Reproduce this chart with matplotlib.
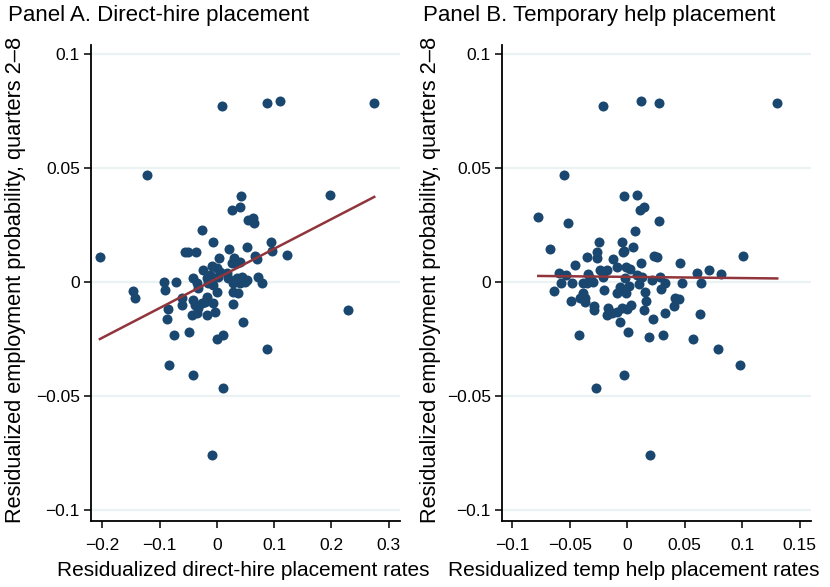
import numpy as np
import matplotlib
matplotlib.use('Agg')
import matplotlib.pyplot as plt

plt.rcParams['font.family'] = ['Liberation Sans', 'DejaVu Sans']

# Panel A: direct-hire placement rates vs employment probability (residualized)
dh_x = [-0.2045, -0.1229, 0.0093, 0.0869, 0.1101, 0.2750, 0.1970, 0.0420, 0.0262, 0.0402,
        0.0547, 0.0635, 0.0647, -0.0262, -0.0065, 0.0205, 0.0530, 0.0949, 0.0962, 0.1224,
        -0.0559, -0.0502, -0.0362, 0.0659, 0.0694, 0.0040, -0.0240, -0.0093, 0.0297, 0.0344,
        0.0257, 0.0402, -0.0921, -0.0909, -0.0722, -0.1463, -0.1439, -0.0425, -0.0355, -0.0327,
        -0.0180, -0.0122, -0.0152, -0.0005, 0.0052, 0.0023, -0.0065, -0.0005, 0.0170, 0.0198,
        0.0344, 0.0432, 0.0490, 0.0402, 0.0285, 0.0285, 0.0372, 0.0519, 0.0712, 0.0792,
        -0.0617, -0.0607, -0.0425, -0.0385, -0.0442, -0.0355, -0.0327, -0.0267, -0.0180, -0.0210,
        -0.0180, -0.0065, -0.0035, -0.0851, -0.0879, -0.0747, -0.0495, -0.0005, 0.0110, 0.0274,
        0.0449, 0.0869, 0.2285, -0.0839, -0.0414, 0.0100, -0.0093]
dh_y = [0.0110, 0.0471, 0.0770, 0.0785, 0.0792, 0.0787, 0.0380, 0.0376, 0.0317, 0.0327,
        0.0270, 0.0279, 0.0259, 0.0226, 0.0176, 0.0145, 0.0154, 0.0175, 0.0135, 0.0116,
        0.0129, 0.0133, 0.0133, 0.0113, 0.0100, 0.0103, 0.0053, 0.0070, 0.0103, 0.0082,
        0.0082, 0.0088, -0.0001, -0.0035, -0.0001, -0.0038, -0.0069, 0.0016, -0.0006, -0.0028,
        0.0016, 0.0031, -0.0006, 0.0060, 0.0045, 0.0023, -0.0013, -0.0043, 0.0038, 0.0016,
        0.0016, 0.0023, 0.0001, -0.0006, -0.0006, -0.0043, -0.0047, 0.0009, 0.0023, -0.0003,
        -0.0072, -0.0103, -0.0079, -0.0101, -0.0145, -0.0138, -0.0116, -0.0094, -0.0065, -0.0087,
        -0.0145, -0.0094, -0.0131, -0.0119, -0.0164, -0.0233, -0.0219, -0.0252, -0.0235, -0.0097,
        -0.0176, -0.0295, -0.0123, -0.0364, -0.0411, -0.0468, -0.0761]
dh_fit_y = [-0.0251, 0.0373]

# Panel B: temporary help placement rates
th_x = [-0.0774, -0.0672, -0.0553, -0.0518, -0.0207, 0.0122, 0.0279, 0.1306, -0.0029, 0.0084,
        0.0113, 0.0148, 0.0279, 0.0070, -0.0244, -0.0047, 0.0049, -0.0038, -0.0026, -0.0262,
        -0.0262, -0.0352, -0.0454, -0.0122, 0.0119, 0.0230, 0.0259, 0.0457, 0.1006, -0.0236,
        -0.0177, -0.0085, -0.0011, 0.0020, 0.0611, 0.0713, 0.0820, -0.0593, -0.0535, -0.0576,
        -0.0637, -0.0483, -0.0489, -0.0416, -0.0337, -0.0323, -0.0381, -0.0352, -0.0300, -0.0381,
        -0.0410, -0.0366, -0.0366, -0.0288, -0.0288, -0.0201, -0.0207, -0.0163, -0.0177, -0.0134,
        -0.0090, -0.0067, -0.0085, -0.0067, -0.0017, 0.0012, -0.0009, -0.0047, -0.0003, 0.0032,
        0.0003, -0.0026, -0.0268, 0.0201, 0.0084, 0.0128, 0.0105, 0.0151, 0.0166, 0.0142,
        0.0224, 0.0215, 0.0288, 0.0294, 0.0332, 0.0332, 0.0186, 0.0308, 0.0477, 0.0419,
        0.0454, 0.0407, 0.0570, 0.0640, 0.0631, 0.0791, 0.0983]
th_y = [0.0283, 0.0145, 0.0471, 0.0259, 0.0770, 0.0792, 0.0787, 0.0785, 0.0376, 0.0380,
        0.0317, 0.0327, 0.0269, 0.0225, 0.0175, 0.0175, 0.0153, 0.0132, 0.0134, 0.0132,
        0.0103, 0.0107, 0.0073, 0.0100, 0.0085, 0.0112, 0.0110, 0.0082, 0.0115, 0.0053,
        0.0050, 0.0065, 0.0067, 0.0057, 0.0038, 0.0053, 0.0034, 0.0038, 0.0031, -0.0003,
        -0.0040, -0.0003, -0.0084, -0.0233, 0.0034, 0.0016, -0.0003, -0.0003, -0.0001, -0.0047,
        -0.0072, -0.0072, -0.0089, -0.0104, -0.0125, -0.0035, 0.0023, -0.0116, -0.0145, -0.0138,
        -0.0131, -0.0175, -0.0047, -0.0021, 0.0016, -0.0018, -0.0050, -0.0116, -0.0120, -0.0101,
        -0.0219, -0.0411, -0.0468, -0.0761, 0.0031, 0.0023, -0.0010, -0.0045, -0.0084, -0.0123,
        -0.0162, 0.0009, 0.0023, -0.0031, -0.0006, -0.0135, -0.0242, -0.0233, -0.0003, -0.0072,
        -0.0076, -0.0106, -0.0251, -0.0006, -0.0141, -0.0295, -0.0363]
th_fit_y = [0.0026, 0.0015]

yticks = [-0.1, -0.05, 0, 0.05, 0.1]
ytick_labels = ['\u22120.1', '\u22120.05', '0', '0.05', '0.1']
dh_xticks = [-0.2, -0.1, 0, 0.1, 0.2, 0.3]
dh_xtick_labels = ['\u22120.2', '\u22120.1', '0', '0.1', '0.2', '0.3']
th_xticks = [-0.1, -0.05, 0, 0.05, 0.1, 0.15]
th_xtick_labels = ['\u22120.1', '\u22120.05', '0', '0.05', '0.1', '0.15']

dot_color = '#1a476f'
line_color = '#90353b'
grid_color = '#eaf2f3'
ylab = 'Residualized employment probability, quarters 2\u20138'

W, H = 830, 587
fig = plt.figure(figsize=(W / 100, H / 100), dpi=100)


def make_panel(left, x, y, fit_y, xlim, xticks, xlabels, xlabel, xlabel_x, ylabel_px, title, title_x):
    ax = fig.add_axes([left / W, (H - 521) / H, 309 / W, 476 / H])
    for t in yticks:
        ax.axhline(t, color=grid_color, lw=1.6, zorder=0)
    ax.scatter(x, y, s=52, color=dot_color, linewidths=0, zorder=2)
    fx = [min(x), max(x)]
    ax.plot(fx, fit_y, color=line_color, lw=1.8, zorder=3)
    ax.set_xlim(xlim)
    ax.set_ylim(-0.105, 0.104)
    ax.set_yticks(yticks)
    ax.set_yticklabels(ytick_labels)
    ax.set_xticks(xticks)
    ax.set_xticklabels(xlabels)
    ax.tick_params(direction='out', length=5, width=1.1, labelsize=12.5, pad=3)
    ax.tick_params(axis='x', pad=7)
    for s in ['top', 'right']:
        ax.spines[s].set_visible(False)
    for s in ['left', 'bottom']:
        ax.spines[s].set_linewidth(1.3)
    ax.set_ylabel(ylab, fontsize=15.7)
    ax.yaxis.set_label_coords((ylabel_px - left) / 309, 0.506)
    ax.set_xlabel(xlabel, fontsize=15)
    ax.xaxis.set_label_coords(xlabel_x, -0.084)
    fig.text(title_x / W, 1 - 16 / H, title, fontsize=16, va='center', ha='left')
    return ax


make_panel(91, dh_x, dh_y, dh_fit_y, (-0.22, 0.32), dh_xticks, dh_xtick_labels,
           'Residualized direct-hire placement rates', 0.492, 26,
           'Panel A. Direct-hire placement', 8)
make_panel(502, th_x, th_y, th_fit_y, (-0.109, 0.16), th_xticks, th_xtick_labels,
           'Residualized temp help placement rates', 0.427, 441,
           'Panel B. Temporary help placement', 423)

fig.savefig('out.png', dpi=100)
